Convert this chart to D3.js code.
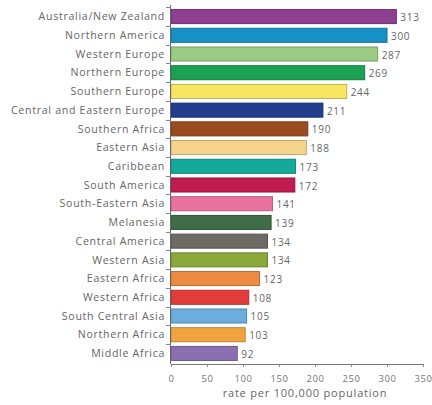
<!DOCTYPE html>
<html>
<head>
<meta charset="utf-8">
<script src="https://cdn.jsdelivr.net/npm/d3@7"></script>
<style>
  html, body { margin: 0; padding: 0; background: #fff; }
  svg { display: block; }
  text { font-family: "Open Sans", "Noto Sans", sans-serif; }
</style>
</head>
<body>
<svg id="chart" width="432" height="405"></svg>
<script>
// Regions, sorted by rate
const regions = [
  "Australia/New Zealand", "Northern America", "Western Europe", "Northern Europe",
  "Southern Europe", "Central and Eastern Europe", "Southern Africa", "Eastern Asia",
  "Caribbean", "South America", "South-Eastern Asia", "Melanesia", "Central America",
  "Western Asia", "Eastern Africa", "Western Africa", "South Central Asia",
  "Northern Africa", "Middle Africa"
];
// Rate per 100,000 population
const rates = [313, 300, 287, 269, 244, 211, 190, 188, 173, 172, 141, 139, 134, 134, 123, 108, 105, 103, 92];
const barColors = [
  "#8f3f91", "#1591c6", "#9ccb84", "#1aa253", "#f8e661", "#213f8e", "#9b4b20",
  "#f6d48e", "#13a99b", "#c11a4f", "#e9729f", "#3e6c46", "#6e6a64", "#8ba83a",
  "#ec8b41", "#e13c3a", "#6badde", "#f1a43e", "#8b70b1"
];
const xTicks = [0, 50, 100, 150, 200, 250, 300, 350];
const axisTitle = "rate per 100,000 population";

const svg = d3.select("#chart");
const plotLeft = 171, plotRight = 423, plotTop = 6, plotBottom = 364;

const x = d3.scaleLinear().domain([0, 350]).range([plotLeft, plotRight]);
const y = d3.scaleBand().domain(regions).range([plotTop, plotBottom])
  .paddingInner(0.25).paddingOuter(0.19);

const data = regions.map((r, i) => ({ region: r, rate: rates[i], color: barColors[i] }));

// Bars
svg.append("g").selectAll("rect").data(data).join("rect")
  .attr("x", x(0))
  .attr("y", d => y(d.region))
  .attr("width", d => x(d.rate) - x(0))
  .attr("height", y.bandwidth())
  .attr("fill", d => d.color)
  .attr("stroke", d => d3.color(d.color).darker(0.7))
  .attr("stroke-width", 1);

// Value labels
svg.append("g").selectAll("text").data(data).join("text")
  .attr("x", d => x(d.rate) + 4)
  .attr("y", d => y(d.region) + y.bandwidth() / 2 + 1)
  .attr("dy", "0.35em")
  .attr("font-size", 10)
  .attr("letter-spacing", 0.7)
  .attr("fill", "#666")
  .text(d => d.rate);

// Category labels
svg.append("g").selectAll("text").data(data).join("text")
  .attr("x", plotLeft - 6)
  .attr("y", d => y(d.region) + y.bandwidth() / 2)
  .attr("dy", "0.35em")
  .attr("text-anchor", "end")
  .attr("font-size", 10.6)
  .attr("letter-spacing", 0.7)
  .attr("fill", "#666")
  .text(d => d.region);

// Vertical axis line with short ticks between the bands
svg.append("line")
  .attr("x1", plotLeft - 0.5).attr("x2", plotLeft - 0.5)
  .attr("y1", plotTop - 1).attr("y2", plotBottom)
  .attr("stroke", "#666").attr("stroke-width", 1);
const bounds = regions.map(r => y(r) - y.step() * y.paddingInner() / 2);
svg.append("g").selectAll("line").data(bounds).join("line")
  .attr("x1", plotLeft - 5).attr("x2", plotLeft)
  .attr("y1", d => Math.round(d) + 0.5).attr("y2", d => Math.round(d) + 0.5)
  .attr("stroke", "#7b86a6").attr("stroke-width", 1);

// Bottom axis
const xAxis = svg.append("g")
  .attr("transform", `translate(0,${plotBottom})`)
  .call(d3.axisBottom(x).tickValues(xTicks).tickSize(3).tickPadding(8));
xAxis.select(".domain").attr("stroke", "#777");
xAxis.selectAll(".tick line").attr("stroke", "#888");
xAxis.selectAll(".tick text")
  .attr("font-size", 9.5)
  .attr("letter-spacing", 0.5)
  .attr("fill", "#777")
  .attr("font-family", "\"Open Sans\", \"Noto Sans\", sans-serif");

// Axis title
svg.append("text")
  .attr("x", 305)
  .attr("y", 397)
  .attr("text-anchor", "middle")
  .attr("font-size", 11)
  .attr("letter-spacing", 0.8)
  .attr("fill", "#666")
  .text(axisTitle);
</script>
</body>
</html>
